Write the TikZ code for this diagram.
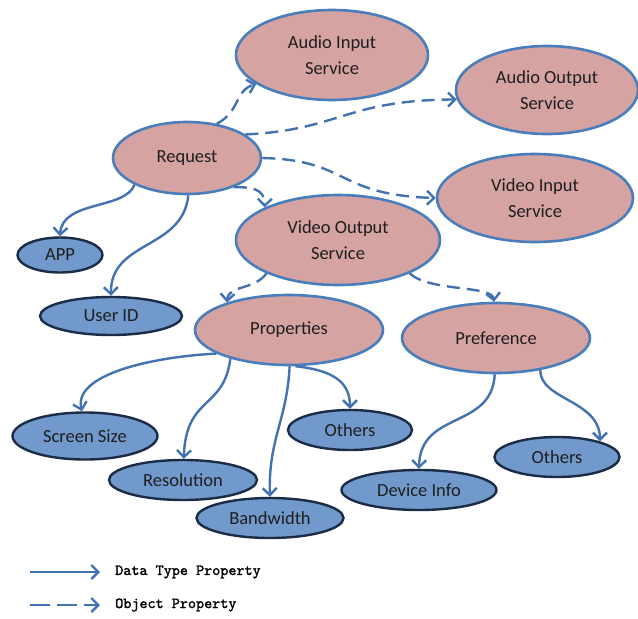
\documentclass[tikz,border=0pt]{standalone}
\usepackage{fontspec}
\setmainfont{Carlito}
\newfontfamily\legendfont{lmmono10-regular.otf}[FakeBold=1.6]
\usetikzlibrary{shapes.geometric,arrows.meta}

\definecolor{svcfill}{RGB}{214,163,163}
\definecolor{svcline}{RGB}{74,126,187}
\definecolor{leaffill}{RGB}{114,153,204}
\definecolor{leafline}{RGB}{26,44,70}
\definecolor{edgeblue}{RGB}{66,114,175}
\definecolor{labeltext}{RGB}{30,30,30}

\tikzset{
  concept/.style={ellipse, draw=svcline, fill=svcfill, line width=2.6pt,
    inner sep=0pt, align=center, text=labeltext,
    font=\fontsize{18.5}{26}\selectfont},
  leaf/.style={ellipse, draw=leafline, fill=leaffill, line width=2.4pt,
    inner sep=0pt, align=center, text=labeltext,
    font=\fontsize{18.5}{22}\selectfont},
  datarel/.style={draw=edgeblue, line width=2.4pt,
    -{Straight Barb[length=7pt,width=14pt,line width=2.4pt]}},
  objrel/.style={datarel, dash pattern=on 13pt off 7pt},
  legenddash/.style={datarel, dash pattern=on 20pt off 7pt},
  legendtext/.style={anchor=west, inner sep=0pt, text=black,
    font=\legendfont\bfseries\fontsize{15.4}{15.4}\selectfont}
}

\begin{document}
\begin{tikzpicture}[x=1pt, y=-1pt]
\useasboundingbox (0,0) rectangle (638,619);

% service and concept nodes
\node[concept, minimum width=192pt, minimum height=90pt] (ai)  at (332,55)  {Audio Input\\Service};
\node[concept, minimum width=182pt, minimum height=88pt] (ao)  at (547,90)  {Audio Output\\Service};
\node[concept, minimum width=148pt, minimum height=72pt] (req) at (187,158) {Request};
\node[concept, minimum width=196pt, minimum height=88pt] (vi)  at (535,198) {Video Input\\Service};
\node[concept, minimum width=204pt, minimum height=90pt] (vo)  at (338,240) {Video Output\\Service};
\node[concept, minimum width=188pt, minimum height=70pt] (prop) at (289,330) {Properties};
\node[concept, minimum width=188pt, minimum height=70pt] (pref) at (496,338) {Preference};

% data-valued leaves
\node[leaf, minimum width=85pt,  minimum height=35pt] (app)  at (60,255)  {APP};
\node[leaf, minimum width=142pt, minimum height=38pt] (uid)  at (111,316) {User ID};
\node[leaf, minimum width=145pt, minimum height=47pt] (ss)   at (85,436)  {Screen Size};
\node[leaf, minimum width=148pt, minimum height=40pt] (res)  at (183,480) {Resolution};
\node[leaf, minimum width=147pt, minimum height=40pt] (bw)   at (270,518) {Bandwidth};
\node[leaf, minimum width=124pt, minimum height=40pt] (oth1) at (350,430) {Others};
\node[leaf, minimum width=155pt, minimum height=40pt] (dev)  at (419,490) {Device Info};
\node[leaf, minimum width=125pt, minimum height=40pt] (oth2) at (557,457) {Others};

% object properties (dashed)
\draw[objrel] (req.49)  .. controls (240,112) and (235,90) .. (ai.201);
\draw[objrel] (req.22)  .. controls (340,130) and (345,100) .. (ao.186);
\draw[objrel] (req.east) .. controls (350,160) and (335,195) .. (vi.west);
\draw[objrel] (req.-32) .. controls (250,187) and (265,188) .. (vo.156);
\draw[objrel] (vo.205)  .. controls (255,290) and (228,285) .. (prop.156);
\draw[objrel] (vo.-25)  .. controls (430,292) and (492,285) .. (pref.93);

% data type properties (solid)
\draw[datarel] (req.207) .. controls (125,210) and (62,200) .. (app.north);
\draw[datarel] (req.-88) .. controls (183,250) and (110,240) .. (uid.north);
\draw[datarel] (prop.198) .. controls (150,357) and (73,375) .. (ss.97);
\draw[datarel] (prop.206) .. controls (224,410) and (186,395) .. (res.88);
\draw[datarel] (prop.-89) .. controls (287,420) and (268,440) .. (bw.north);
\draw[datarel] (prop.-80) .. controls (330,370) and (350,380) .. (oth1.north);
\draw[datarel] (pref.-92) .. controls (492,430) and (420,410) .. (dev.north);
\draw[datarel] (pref.-36) .. controls (540,400) and (600,400) .. (oth2.20);

% legend
\coordinate (l1a) at (30,572);
\coordinate (l1b) at (100,572);
\coordinate (l2a) at (30,605);
\coordinate (l2b) at (100,605);
\draw[datarel, line width=2.8pt]    (l1a) -- (l1b);
\draw[legenddash, line width=2.8pt] (l2a) -- (l2b);
\node[legendtext] (lt1) at (115,572) {Data Type Property};
\node[legendtext] (lt2) at (115,605) {Object Property};
\end{tikzpicture}
\end{document}
